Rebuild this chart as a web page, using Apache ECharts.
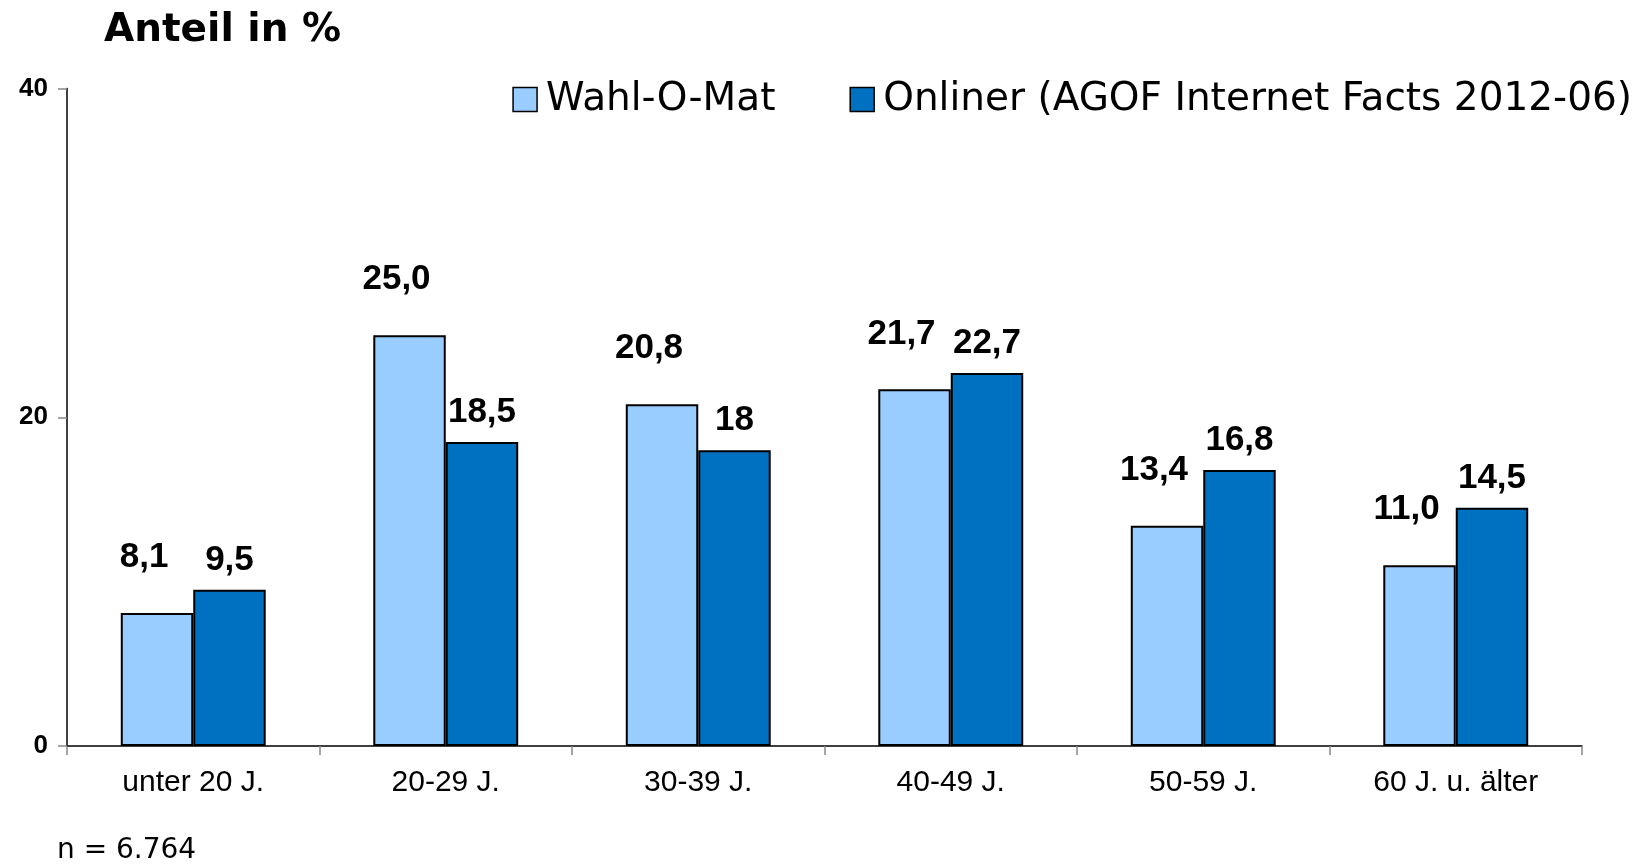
<!DOCTYPE html>
<html>
<head>
<meta charset="utf-8">
<script src="https://cdn.jsdelivr.net/npm/echarts@6/dist/echarts.min.js"></script>
<style>
  html, body { margin: 0; padding: 0; background: #fff; }
  #chart { width: 1644px; height: 868px; }
</style>
</head>
<body>
<div id="chart"></div>
<script>
const categories = ["unter 20 J.", "20-29 J.", "30-39 J.", "40-49 J.", "50-59 J.", "60 J. u. älter"];
const wahlOMat = [8.1, 25.0, 20.8, 21.7, 13.4, 11.0];
const onliner = [9.5, 18.5, 18, 22.7, 16.8, 14.5];
const seriesNames = ["Wahl-O-Mat", "Onliner (AGOF Internet Facts 2012-06)"];
const yTicks = [0, 20, 40];

const chart = echarts.init(document.getElementById("chart"));

const labelFont = {
  fontFamily: "Liberation Sans, Arial, sans-serif",
  fontWeight: "bold",
  fontSize: 35,
  color: "#000",
};

const option = {
  animation: false,
  title: [
    {
      text: "Anteil in %",
      left: 99,
      top: 6,
      textStyle: {
        fontFamily: "DejaVu Sans",
        fontWeight: "bold",
        fontSize: 39,
        color: "#000",
      },
    },
    {
      text: "n = 6.764",
      left: 52,
      top: 832,
      textStyle: {
        fontFamily: "DejaVu Sans",
        fontWeight: "normal",
        fontSize: 28,
        color: "#000",
      },
    },
  ],
  legend: {
    right: 7,
    top: 75,
    itemWidth: 24,
    itemHeight: 24,
    itemGap: 74,
    icon: "rect",
    itemStyle: { borderColor: "#000", borderWidth: 1.5 },
    textStyle: {
      fontFamily: "DejaVu Sans",
      fontSize: 39,
      color: "#000",
      padding: [0, 0, 0, 4],
    },
    data: seriesNames,
  },
  grid: {
    left: 67,
    right: 62,
    top: 88.6,
    bottom: 122,
    containLabel: false,
  },
  xAxis: {
    type: "category",
    data: categories,
    axisLine: { lineStyle: { color: "#000", width: 1.5 } },
    axisTick: {
      show: true,
      alignWithLabel: false,
      length: 9,
      lineStyle: { color: "#888", width: 1.5 },
    },
    axisLabel: {
      fontFamily: "Liberation Sans, Arial, sans-serif",
      fontSize: 30,
      color: "#000",
      margin: 22,
    },
  },
  yAxis: {
    type: "value",
    min: yTicks[0],
    max: yTicks[yTicks.length - 1],
    interval: yTicks[1] - yTicks[0],
    splitLine: { show: false },
    axisLine: { show: true, lineStyle: { color: "#000", width: 1.5 } },
    axisTick: {
      show: true,
      length: 9,
      lineStyle: { color: "#888", width: 1.5 },
    },
    axisLabel: {
      fontFamily: "Liberation Sans, Arial, sans-serif",
      fontWeight: "bold",
      fontSize: 26,
      color: "#000",
      margin: 19,
    },
  },
  series: [
    {
      name: seriesNames[0],
      type: "bar",
      data: wahlOMat,
      barGap: "0%",
      barCategoryGap: "42.6%",
      itemStyle: { color: "#99CCFF", borderColor: "#000", borderWidth: 2 },
      label: {
        show: true,
        position: "top",
        distance: 12,
        offset: [-13, -26],
        ...labelFont,
        formatter: (p) => p.value.toFixed(1).replace(".", ","),
      },
    },
    {
      name: seriesNames[1],
      type: "bar",
      data: onliner,
      barGap: "0%",
      barCategoryGap: "42.6%",
      itemStyle: { color: "#0070C0", borderColor: "#000", borderWidth: 2 },
      label: {
        show: true,
        position: "top",
        distance: 12,
        ...labelFont,
        formatter: (p) => String(p.value).replace(".", ","),
      },
    },
  ],
};

chart.setOption(option);
</script>
</body>
</html>
